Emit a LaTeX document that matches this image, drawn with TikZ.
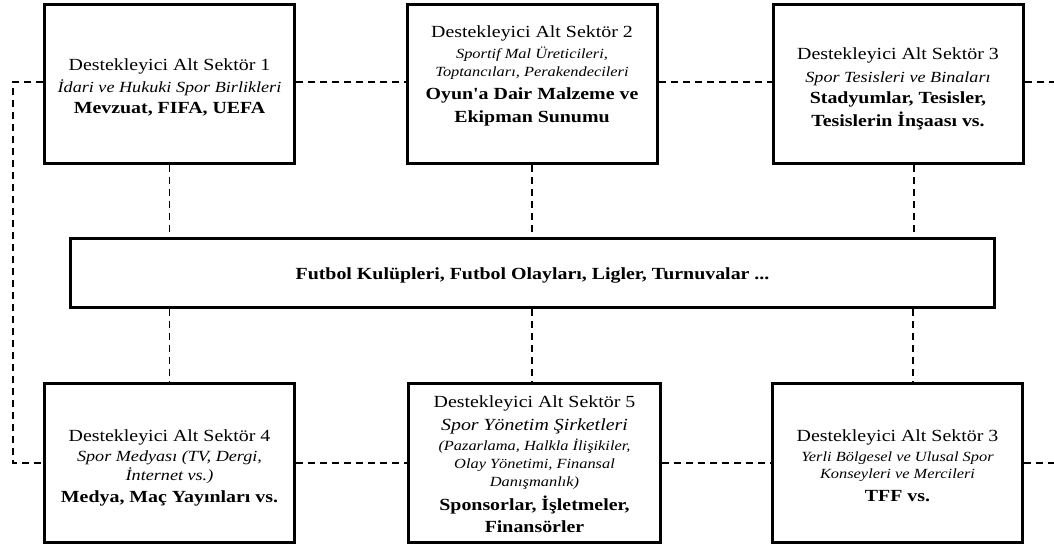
\documentclass[tikz,border=0pt]{standalone}
\usepackage{graphicx}
\usepackage{fontspec}
\setmainfont{Liberation Serif}
% wide setting of the box texts
\newcommand\widetxt[1]{\scalebox{1.17}[1]{#1}}
\begin{document}
\begin{tikzpicture}[x=1pt,y=-1pt,
  box/.style={draw, line width=3pt, minimum width=250pt, minimum height=159pt, inner sep=0pt},
  hub/.style={draw, line width=3pt, minimum width=924pt, minimum height=69pt, inner sep=0pt},
  conn/.style={draw, line width=1.8pt, dash pattern=on 7pt off 5pt},
  ln/.style={anchor=base, inner sep=0pt},
  rg/.style={ln, font=\fontsize{17}{20}\selectfont},
  bd/.style={ln, font=\fontsize{17}{20}\selectfont\bfseries},
  itb/.style={ln, font=\fontsize{17}{20}\selectfont\itshape},
  itl/.style={ln, font=\fontsize{15.5}{19}\selectfont\itshape},
  its/.style={ln, font=\fontsize{14}{17}\selectfont\itshape},
]
\useasboundingbox (0,0) rectangle (1054,550);

% boxes
\node[box] (b1) at (169.5,84) {};
\node[box] (b2) at (532,84) {};
\node[box] (b3) at (898,84) {};
\node[hub] (m) at (532.5,273) {};
\node[box] (b4) at (169.5,463) {};
\node[box, minimum width=252pt] (b5) at (534.5,463) {};
\node[box] (b6) at (897.5,463) {};

% free ends of the connectors
\coordinate (lc) at (13,270);
\coordinate (rt) at (1054,82);
\coordinate (rb) at (1054,463);

% horizontal connectors
\draw[conn] ([yshift=2pt]b1.west) -| (lc) |- (b4.west);
\draw[conn] ([yshift=2pt]b1.east) -- ([yshift=2pt]b2.west);
\draw[conn] ([yshift=2pt]b2.east) -- ([yshift=2pt]b3.west);
\draw[conn] ([yshift=2pt]b3.east) -- (rt);
\draw[conn] (b4.east) -- (b5.west);
\draw[conn] (b5.east) -- (b6.west);
\draw[conn] (b6.east) -- (rb);

% vertical connectors to the central box
\draw[conn] (b1.south) -- (b1.south |- m.north);
\draw[conn] (b2.south) -- (b2.south |- m.north);
\draw[conn] ([xshift=16pt]b3.south) -- ([xshift=16pt]b3.south |- m.north);
\draw[conn] (b1.south |- m.south) -- (b4.north);
\draw[conn] (b2.south |- m.south) -- (b2.south |- b5.north);
\draw[conn] ([xshift=15.5pt]b6.north |- m.south) -- ([xshift=15.5pt]b6.north);

% texts
\node[rg]  (t1a) at (169.5,70)  {\widetxt{Destekleyici Alt Sektör 1}};
\node[itl] (t1b) at (169.5,92)  {\widetxt{İdari ve Hukuki Spor Birlikleri}};
\node[bd]  (t1c) at (169.5,113) {\widetxt{Mevzuat, FIFA, UEFA}};

\node[rg]  (t2a) at (532,37)  {\widetxt{Destekleyici Alt Sektör 2}};
\node[its] (t2b) at (532,58)  {\widetxt{Sportif Mal Üreticileri,}};
\node[its] (t2c) at (532,76)  {\widetxt{Toptancıları, Perakendecileri}};
\node[bd]  (t2d) at (532,99)  {\widetxt{Oyun\textquotesingle a Dair Malzeme ve}};
\node[bd]  (t2e) at (532,122) {\widetxt{Ekipman Sunumu}};

\node[rg]  (t3a) at (898,59)  {\widetxt{Destekleyici Alt Sektör 3}};
\node[itl] (t3b) at (898,82)  {\widetxt{Spor Tesisleri ve Binaları}};
\node[bd]  (t3c) at (898,103) {\widetxt{Stadyumlar, Tesisler,}};
\node[bd]  (t3d) at (898,126) {\widetxt{Tesislerin İnşaası vs.}};

\node[bd]  (tm) at (532.5,279) {\widetxt{Futbol Kulüpleri, Futbol Olayları, Ligler, Turnuvalar ...}};

\node[rg]  (t4a) at (169.5,441) {\widetxt{Destekleyici Alt Sektör 4}};
\node[itl] (t4b) at (169.5,461) {\widetxt{Spor Medyası (TV, Dergi,}};
\node[itl] (t4c) at (169.5,480) {\widetxt{İnternet vs.)}};
\node[bd]  (t4d) at (169.5,502) {\widetxt{Medya, Maç Yayınları vs.}};

\node[rg]  (t5a) at (534.5,407) {\widetxt{Destekleyici Alt Sektör 5}};
\node[itb] (t5b) at (534.5,430) {\widetxt{Spor Yönetim Şirketleri}};
\node[its] (t5c) at (534.5,450) {\widetxt{(Pazarlama, Halkla İlişikiler,}};
\node[its] (t5d) at (534.5,468) {\widetxt{Olay Yönetimi, Finansal}};
\node[its] (t5e) at (534.5,486) {\widetxt{Danışmanlık)}};
\node[bd]  (t5f) at (534.5,510) {\widetxt{Sponsorlar, İşletmeler,}};
\node[bd]  (t5g) at (534.5,532) {\widetxt{Finansörler}};

\node[rg]  (t6a) at (897.5,441) {\widetxt{Destekleyici Alt Sektör 3}};
\node[its] (t6b) at (897.5,461) {\widetxt{Yerli Bölgesel ve Ulusal Spor}};
\node[its] (t6c) at (897.5,478) {\widetxt{Konseyleri ve Mercileri}};
\node[bd]  (t6d) at (897.5,501) {\widetxt{TFF vs.}};
\end{tikzpicture}
\end{document}
